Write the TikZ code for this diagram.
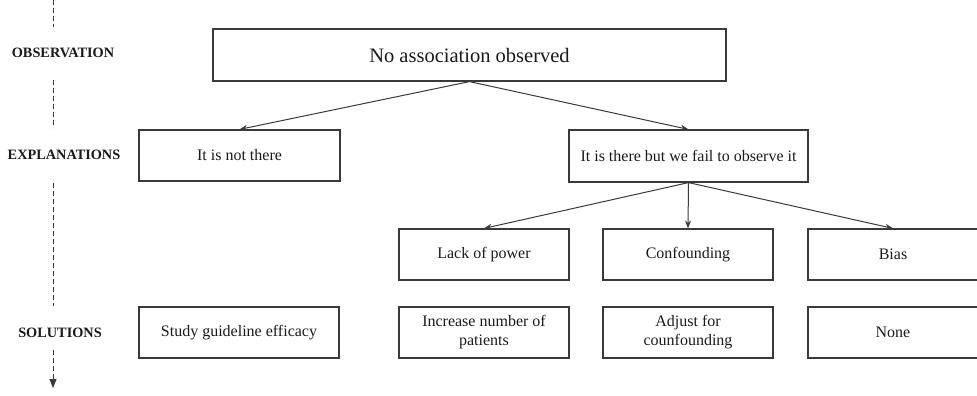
\documentclass[tikz,border=0pt]{standalone}
\usepackage{fontspec}
\setmainfont{Liberation Serif}
\usetikzlibrary{arrows.meta}
\definecolor{linec}{HTML}{3A3A3A}
\definecolor{textc}{HTML}{1A1A1A}
\begin{document}
\begin{tikzpicture}[x=1pt,y=-1pt,
  box/.style={draw=linec,line width=1.2pt,rectangle,inner sep=0pt,align=center,
    text=textc,font=\fontsize{16}{19}\selectfont},
  lvl/.style={text=textc,font=\fontsize{14.3}{17}\selectfont\bfseries},
  conn/.style={draw=linec,line width=1pt,-{Stealth[length=8pt,width=6pt]}},
  axis/.style={draw=linec,line width=1pt,dash pattern=on 5pt off 3pt}]
\useasboundingbox (0,0) rectangle (977,396);
% boxes
\node[box,minimum width=513pt,minimum height=52pt,font=\fontsize{20.5}{24}\selectfont] (top) at (469.5,55) {No association observed};
\node[box,minimum width=201pt,minimum height=51pt] (nt) at (239.5,155.5) {It is not there};
\node[box,minimum width=239pt,minimum height=52pt] (th) at (688.5,156) {It is there but we fail to observe it};
\node[box,minimum width=170pt,minimum height=51pt] (pw) at (484,254.5) {Lack of power};
\node[box,minimum width=170pt,minimum height=51pt] (cf) at (688,254.5) {Confounding};
\node[box,minimum width=170pt,minimum height=51pt] (bi) at (893,254.5) {Bias};
\node[box,minimum width=200pt,minimum height=51pt] (sg) at (239,332.5) {Study guideline efficacy};
\node[box,minimum width=170pt,minimum height=51pt] (in) at (484,332.5) {Increase number of\\patients};
\node[box,minimum width=170pt,minimum height=51pt] (ad) at (688,332.5) {Adjust for\\counfounding};
\node[box,minimum width=170pt,minimum height=51pt] (no) at (893,332.5) {None};
% connectors
\draw[conn] (top.south) -- (nt.north);
\draw[conn] (top.south) -- (th.north);
\draw[conn] (th.south) -- (pw.north);
\draw[conn] (th.south) -- (cf.north);
\draw[conn] (th.south) -- (bi.north);
% level labels
\node[lvl] (lo) at (63,53) {OBSERVATION};
\node[lvl] (le) at (64,155) {EXPLANATIONS};
\node[lvl] (ls) at (60,333) {SOLUTIONS};
% dashed axis
\coordinate (d0) at (53,0);
\coordinate (d1) at (53,27);
\coordinate (d2) at (53,80);
\coordinate (d3) at (53,128);
\coordinate (d4) at (53,183);
\coordinate (d5) at (53,306);
\coordinate (d6) at (53,350);
\coordinate (d7) at (53,388);
\draw[axis] (d0) -- (d1);
\draw[axis] (d2) -- (d3);
\draw[axis] (d4) -- (d5);
\draw[axis,-{Triangle[length=9pt,width=7pt]}] (d6) -- (d7);
\end{tikzpicture}
\end{document}
